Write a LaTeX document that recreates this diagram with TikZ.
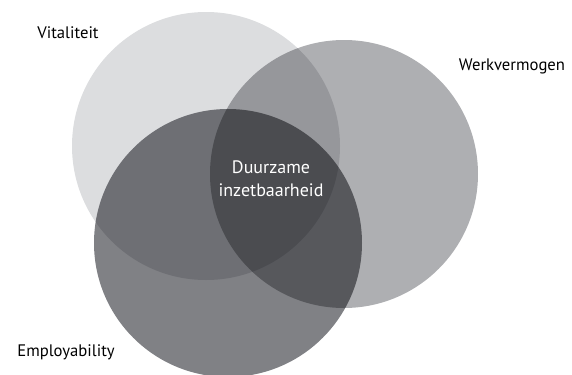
\documentclass[tikz,border=0pt]{standalone}
\usepackage{fontspec}
\setmainfont{PT Sans}
\usepackage{tikz}

\definecolor{vitgray}{RGB}{220,221,223}
\definecolor{werkgray}{RGB}{174,175,178}
\definecolor{empgray}{RGB}{128,129,133}

\tikzset{
  venn/.style={circle, draw=none, inner sep=0pt, minimum size=201pt, blend mode=multiply},
  setlabel/.style={inner sep=0.75pt, font=\fontsize{12.5}{15}\selectfont},
}

\begin{document}
\begin{tikzpicture}[x=0.75pt,y=0.75pt,yscale=-1,xscale=1]
\path[use as bounding box] (0,0) rectangle (572,375);

% Circles
\node[venn, fill=vitgray] (vit) at (206,146) {};
\node[venn, fill=werkgray] (werk) at (344,174) {};
\node[venn, fill=empgray] (emp) at (228,243) {};

% Text Node
\node[setlabel] (lvit) at (68,33) {Vitaliteit};
% Text Node
\node[setlabel] (lwerk) at (512,66) {Werkvermogen};
% Text Node
\node[setlabel] (lemp) at (66,352) {Employability};
% Text Node
\node[setlabel, white, align=center, font=\fontsize{13.5}{17.5}\selectfont] (core) at (271,179) {Duurzame\\inzetbaarheid};

\end{tikzpicture}
\end{document}
